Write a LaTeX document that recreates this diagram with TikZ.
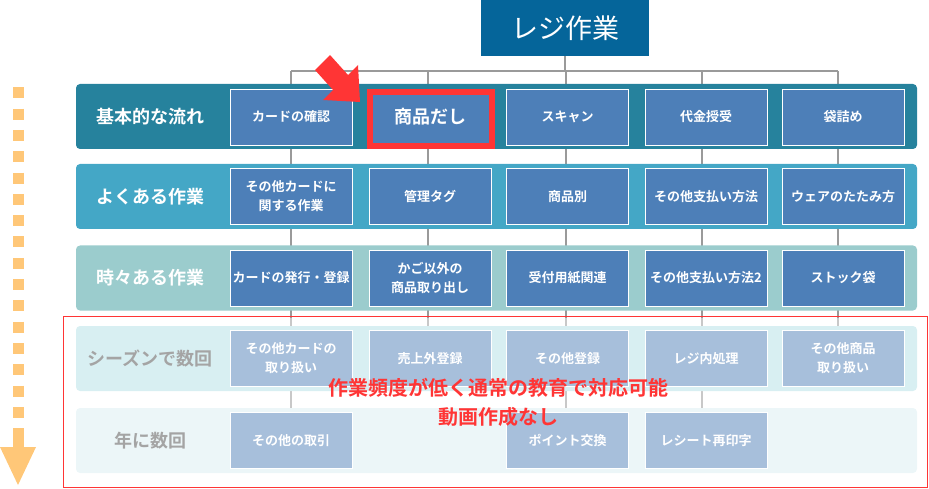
\documentclass[tikz,border=0pt]{standalone}
\usepackage{fontspec}
\setmainfont{Noto Sans CJK JP}[BoldFont={Noto Sans CJK JP Bold}]
\usepackage{xcolor}
\usepackage{tikz}
\usetikzlibrary{
    positioning,
    backgrounds
}

\definecolor{topblue}{HTML}{05659A}
\definecolor{bandA}{HTML}{26829D}
\definecolor{bandB}{HTML}{44A7C6}
\definecolor{bandC}{HTML}{9BCCCD}
\definecolor{bandD}{HTML}{D8EFF2}
\definecolor{bandE}{HTML}{ECF6F8}
\definecolor{taskblue}{HTML}{4D7FB8}
\definecolor{taskpale}{HTML}{A7BFDB}
\definecolor{alertred}{HTML}{FF3535}
\definecolor{stepgold}{HTML}{FFC778}
\definecolor{wiregray}{HTML}{9A9A9A}
\definecolor{wirepale}{HTML}{C8C8C8}
\definecolor{labelgray}{HTML}{A4A4A4}

\begin{document}
\begin{tikzpicture}[
    x=1pt,
    y=-1pt,
    topbox/.style={
        fill=topblue,
        text=white,
        minimum width=168pt,
        minimum height=56pt,
        inner sep=0pt,
        font=\fontsize{27}{30}\selectfont
    },
    band/.style={
        rounded corners=4pt,
        minimum width=841pt,
        minimum height=65pt,
        inner sep=0pt
    },
    bandlabel/.style={
        text=white,
        font=\bfseries\fontsize{18}{22}\selectfont
    },
    task/.style={
        draw=white,
        line width=0.8pt,
        fill=taskblue,
        text=white,
        minimum width=122pt,
        minimum height=56pt,
        inner sep=1pt,
        align=center,
        font=\bfseries\fontsize{13}{19}\selectfont
    },
    rare/.style={
        task,
        fill=taskpale
    },
    wire/.style={
        draw=wiregray,
        line width=2pt
    },
    palewire/.style={
        draw=wirepale,
        line width=2pt
    }
]

\useasboundingbox (0,0) rectangle (929,489);

% ============================================================
% ROOT
% ============================================================

\node[topbox] (register) at (565,28) {レジ作業};

% ============================================================
% BANDS
% ============================================================

\node[band, fill=bandA] (basic) at (496.5,116.5) {};
\node[band, fill=bandB] (often) at (496.5,196.5) {};
\node[band, fill=bandC] (sometimes) at (496.5,278) {};
\node[band, fill=bandD] (season) at (496.5,358.5) {};
\node[band, fill=bandE] (yearly) at (496.5,440.5) {};

\node[bandlabel] (basiclabel) at (150,116.5) {基本的な流れ};
\node[bandlabel] (oftenlabel) at (150,196.5) {よくある作業};
\node[bandlabel] (sometimeslabel) at (150,278) {時々ある作業};
\node[bandlabel, text=labelgray] (seasonlabel) at (150,358.5) {シーズンで数回};
\node[bandlabel, text=labelgray] (yearlylabel) at (150,440.5) {年に数回};

% ============================================================
% TASKS
% ============================================================

% Basic flow
\node[task] (card) at (291,117) {カードの確認};
\node[task, font=\bfseries\fontsize{18}{22}\selectfont]
    (goods) at (430,117) {商品だし};
\node[task] (scan) at (567.5,117) {スキャン};
\node[task] (payment) at (706,117) {代金授受};
\node[task] (bagging) at (843,117) {袋詰め};

% Frequent work
\node[task] (cardetc) at (291,196.5) {その他カードに\\関する作業};
\node[task] (tag) at (430,196.5) {管理タグ};
\node[task] (byitem) at (567.5,196.5) {商品別};
\node[task] (payetc) at (706,196.5) {その他支払い方法};
\node[task] (folding) at (843,196.5) {ウェアのたたみ方};

% Occasional work
\node[task] (cardissue) at (291,278) {カードの発行・登録};
\node[task] (takeout) at (430,278) {かご以外の\\商品取り出し};
\node[task] (receipt) at (567.5,278) {受付用紙関連};
\node[task] (payetcb) at (706,278) {その他支払い方法2};
\node[task] (stockbag) at (843,278) {ストック袋};

% Seasonal work
\node[rare] (cardmisc) at (291,358.5) {その他カードの\\取り扱い};
\node[rare] (nonsales) at (430,358.5) {売上外登録};
\node[rare] (regetc) at (567.5,358.5) {その他登録};
\node[rare] (inregister) at (706,358.5) {レジ内処理};
\node[rare] (goodsmisc) at (843,358.5) {その他商品\\取り扱い};

% Yearly work
\node[rare] (tradeetc) at (291,440.5) {その他の取引};
\node[rare] (points) at (567.5,440.5) {ポイント交換};
\node[rare] (reprint) at (706,440.5) {レシート再印字};

% ============================================================
% TREE WIRES
% ============================================================

\coordinate (bus1) at (291,71);
\coordinate (bus2) at (428,71);
\coordinate (bus3) at (566,71);
\coordinate (bus4) at (702,71);
\coordinate (bus5) at (838,71);
\coordinate (fade) at (0,318);

\begin{scope}[on background layer]
\draw[wire] (register.south) -- (register.south |- bus1);
\draw[wire] (bus1) -- (bus5);

\draw[wire] (bus1) -- (bus1 |- fade);
\draw[wire] (bus2) -- (bus2 |- fade);
\draw[wire] (bus3) -- (bus3 |- fade);
\draw[wire] (bus4) -- (bus4 |- fade);
\draw[wire] (bus5) -- (bus5 |- fade);

\draw[palewire] (bus1 |- fade) -- (bus1 |- tradeetc.north);
\draw[palewire] (bus2 |- fade) -- (bus2 |- nonsales.north);
\draw[palewire] (bus3 |- fade) -- (bus3 |- points.north);
\draw[palewire] (bus4 |- fade) -- (bus4 |- reprint.north);
\draw[palewire] (bus5 |- fade) -- (bus5 |- goodsmisc.north);
\end{scope}

% ============================================================
% HIGHLIGHT
% ============================================================

\draw[alertred, line width=5.5pt]
    ([shift={(1.3pt,-3.2pt)}]goods.north west)
    rectangle
    ([shift={(0.7pt,-0.5pt)}]goods.south east);

% Pointer arrow
\fill[alertred]
    (315,70) -- (330,55) -- (348,75) -- (358,65)
    -- (360,102) -- (323,100) -- (333,90) -- cycle;

% Low-frequency zone
\draw[alertred, line width=1.5pt]
    (63.5,316.5) rectangle (927.5,487.5);

\node[
    text=alertred,
    align=center,
    font=\bfseries\fontsize{20}{29}\selectfont
]
    (lowfreq) at (498,402.5)
{作業頻度が低く通常の教育で対応可能\\動画作成なし};

% ============================================================
% FREQUENCY ARROW
% ============================================================

\draw[stepgold, line width=11pt, dash pattern=on 11pt off 10.31pt]
    (18,87.3) -- (18,439.3);

\fill[stepgold]
    (12.5,438) rectangle (23.5,448);

\fill[stepgold]
    (0,447) -- (36,447) -- (18,485) -- cycle;

\end{tikzpicture}
\end{document}
